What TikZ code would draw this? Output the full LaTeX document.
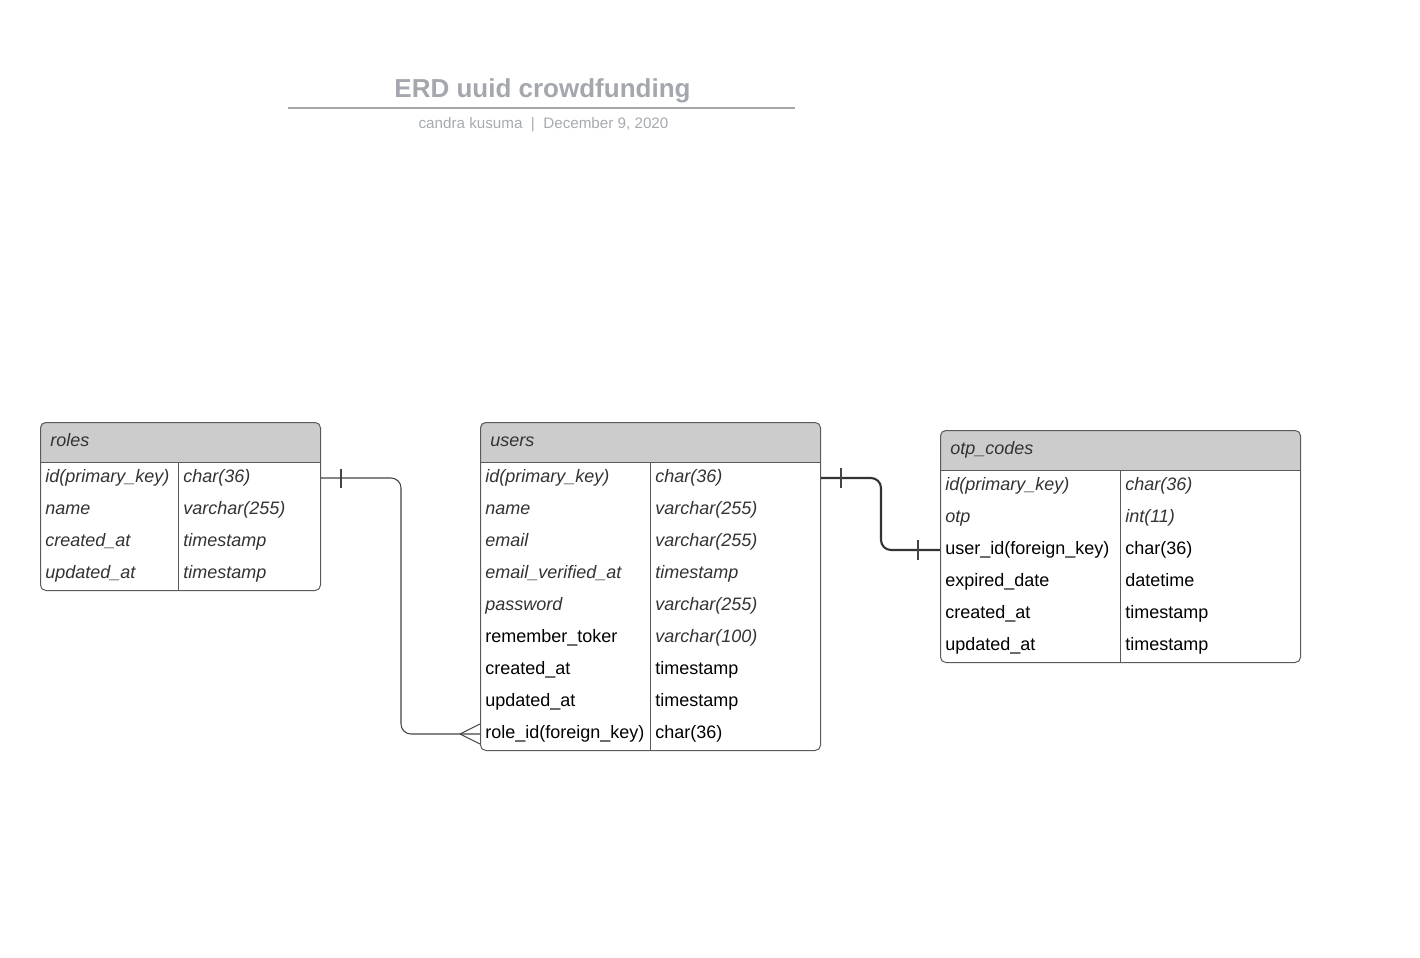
\documentclass[tikz,border=0pt]{standalone}
\usepackage{fontspec}
\setmainfont{Liberation Sans}
\usetikzlibrary{calc}
\definecolor{txtgray}{HTML}{333333}
\definecolor{hdrfill}{HTML}{CCCCCC}
\definecolor{boxline}{HTML}{5A5A5A}
\definecolor{titlegray}{HTML}{A4A8AE}
\definecolor{subgray}{HTML}{A7ABB1}
\definecolor{rulegray}{HTML}{A6A6A6}
\definecolor{connthin}{HTML}{444444}
\definecolor{connthick}{HTML}{333333}
\begin{document}
\begin{tikzpicture}[x=0.75pt,y=-0.75pt,
  cell/.style={anchor=west, inner sep=0pt, text height=10pt, text depth=2.75pt},
  it/.style={cell, font=\fontsize{13.5}{16}\selectfont\itshape, text=txtgray},
  up/.style={cell, font=\fontsize{13.5}{16}\selectfont, text=black},
  tbl/.style={draw=boxline, line width=0.75pt, rounded corners=4pt, anchor=north west, inner sep=0pt},
  sep/.style={draw=boxline, line width=0.75pt},
  conn/.style={draw=connthin, line width=0.8pt},
  thickconn/.style={draw=connthick, line width=1.6pt},
  hdr/.style={fill=hdrfill}]
\useasboundingbox (0,0) rectangle (1420,957);
\fill[white] (0,0) rectangle (1420,957);

% ---- title ----
\node[font=\fontsize{19.5}{22}\selectfont\bfseries, text=titlegray, anchor=base, inner sep=0pt] (title) at (542.5,97.5) {ERD uuid crowdfunding};
\draw[rulegray, line width=1.5pt] (288,107.5) -- (795,107.5);
\node[font=\fontsize{11.4}{13}\selectfont, text=subgray, anchor=base, inner sep=0pt] (subtitle) at (543.5,128) {candra kusuma\ \ |\ \ December 9, 2020};

% ---- roles ----
\begin{scope}
  \clip[rounded corners=4pt] (40,422) rectangle (320,590);
  \fill[hdr] (40,422) rectangle (320,462);
\end{scope}
\node[tbl, minimum width=210pt, minimum height=126pt] (roles) at (40,422) {};
\draw[sep] (40,462) -- (320,462);
\draw[sep] (178,462) -- (178,590);
\node[it] (roles-title) at (50,442) {roles};
\node[it] (roles-id) at (45,478) {id(primary\_key)};
\node[it] (roles-idt) at (183,478) {char(36)};
\node[it] (roles-name) at (45,510) {name};
\node[it] (roles-namet) at (183,510) {varchar(255)};
\node[it] (roles-ca) at (45,542) {created\_at};
\node[it] (roles-cat) at (183,542) {timestamp};
\node[it] (roles-ua) at (45,574) {updated\_at};
\node[it] (roles-uat) at (183,574) {timestamp};

% ---- users ----
\begin{scope}
  \clip[rounded corners=4pt] (480,422) rectangle (820,750);
  \fill[hdr] (480,422) rectangle (820,462);
\end{scope}
\node[tbl, minimum width=255pt, minimum height=246pt] (users) at (480,422) {};
\draw[sep] (480,462) -- (820,462);
\draw[sep] (650,462) -- (650,750);
\node[it] (users-title) at (490,442) {users};
\node[it] (users-id) at (485,478) {id(primary\_key)};
\node[it] (users-idt) at (655,478) {char(36)};
\node[it] (users-name) at (485,510) {name};
\node[it] (users-namet) at (655,510) {varchar(255)};
\node[it] (users-email) at (485,542) {email};
\node[it] (users-emailt) at (655,542) {varchar(255)};
\node[it] (users-ev) at (485,574) {email\_verified\_at};
\node[it] (users-evt) at (655,574) {timestamp};
\node[it] (users-pw) at (485,606) {password};
\node[it] (users-pwt) at (655,606) {varchar(255)};
\node[up] (users-rt) at (485,638) {remember\_toker};
\node[it] (users-rtt) at (655,638) {varchar(100)};
\node[up] (users-ca) at (485,670) {created\_at};
\node[up] (users-cat) at (655,670) {timestamp};
\node[up] (users-ua) at (485,702) {updated\_at};
\node[up] (users-uat) at (655,702) {timestamp};
\node[up] (users-role) at (485,734) {role\_id(foreign\_key)};
\node[up] (users-rolet) at (655,734) {char(36)};

% ---- otp_codes ----
\begin{scope}
  \clip[rounded corners=4pt] (940,430) rectangle (1300,662);
  \fill[hdr] (940,430) rectangle (1300,470);
\end{scope}
\node[tbl, minimum width=270pt, minimum height=174pt] (otp) at (940,430) {};
\draw[sep] (940,470) -- (1300,470);
\draw[sep] (1120,470) -- (1120,662);
\node[it] (otp-title) at (950,450) {otp\_codes};
\node[it] (otp-id) at (945,486) {id(primary\_key)};
\node[it] (otp-idt) at (1125,486) {char(36)};
\node[it] (otp-otp) at (945,518) {otp};
\node[it] (otp-otpt) at (1125,518) {int(11)};
\node[up] (otp-uid) at (945,550) {user\_id(foreign\_key)};
\node[up] (otp-uidt) at (1125,550) {char(36)};
\node[up] (otp-exp) at (945,582) {expired\_date};
\node[up] (otp-expt) at (1125,582) {datetime};
\node[up] (otp-ca) at (945,614) {created\_at};
\node[up] (otp-cat) at (1125,614) {timestamp};
\node[up] (otp-ua) at (945,646) {updated\_at};
\node[up] (otp-uat) at (1125,646) {timestamp};

% ---- roles -> users (one to many) ----
\coordinate (rA) at (roles.east |- roles-id);
\coordinate (uB) at (users.west |- users-role);
\draw[conn, rounded corners=7.5pt] (rA) -- ++(80,0) |- (uB);
\draw[conn] ($(rA)+(20,-9.5)$) -- ($(rA)+(20,9.5)$);
\draw[conn] ($(uB)+(-20,0)$) -- ($(uB)+(0,-10)$);
\draw[conn] ($(uB)+(-20,0)$) -- ($(uB)+(0,10)$);

% ---- users -> otp_codes (one to one) ----
\coordinate (uA) at (users.east |- users-id);
\coordinate (oB) at (otp.west |- otp-uid);
\draw[thickconn, rounded corners=7.5pt] (uA) -- ++(60,0) |- (oB);
\draw[conn] ($(uA)+(20,-10)$) -- ($(uA)+(20,10)$);
\draw[conn] ($(oB)+(-22,-10)$) -- ($(oB)+(-22,10)$);
\end{tikzpicture}
\end{document}
